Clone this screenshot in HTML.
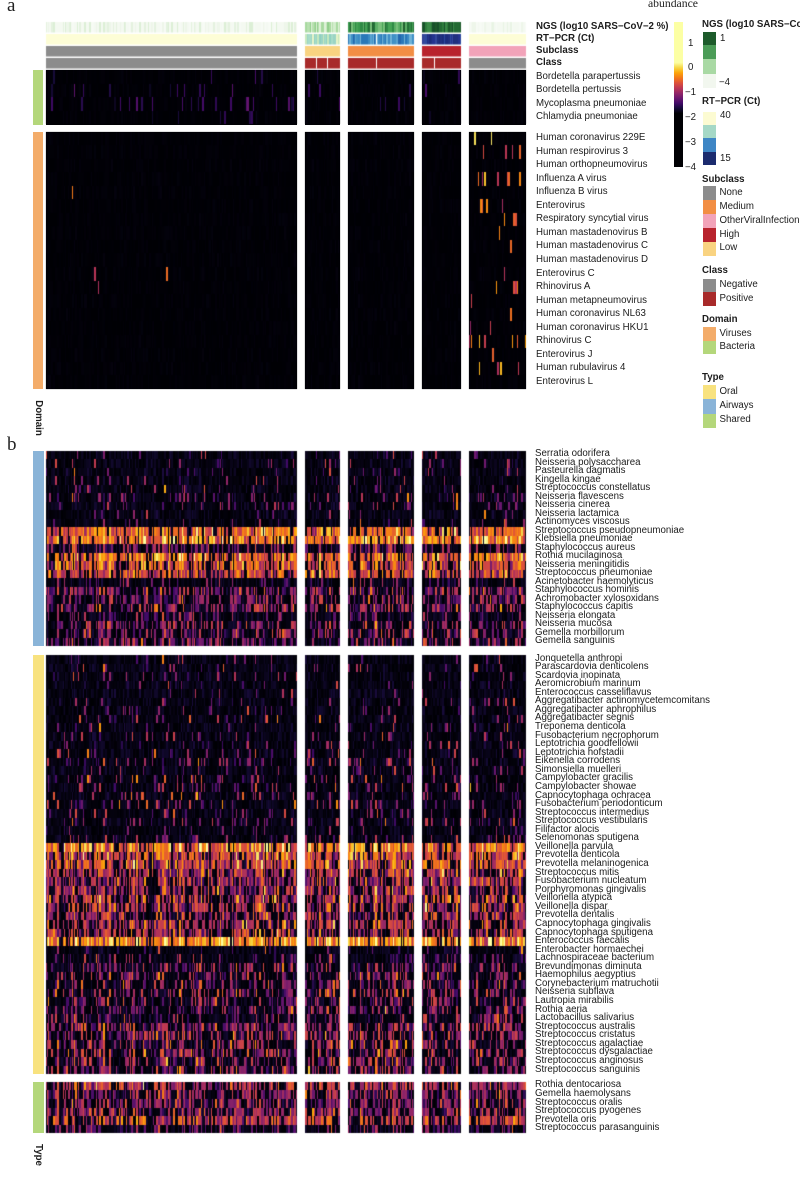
<!DOCTYPE html>
<html><head><meta charset="utf-8">
<style>
html,body{margin:0;padding:0;width:800px;height:1200px;overflow:hidden;background:#fff;}
#c{position:absolute;left:0;top:0;}
.t{position:absolute;font-family:"Liberation Sans",Arial,sans-serif;font-size:9.7px;line-height:12px;white-space:nowrap;color:#1c1c1c;}
.b{font-weight:bold;}
.blk{position:absolute;font-family:"Liberation Sans",Arial,sans-serif;font-size:9.7px;white-space:nowrap;color:#1c1c1c;}
.r{position:absolute;}
.serif{position:absolute;font-family:"Liberation Serif","Times New Roman",serif;white-space:nowrap;color:#222;}
</style></head><body>
<!-- fallback blocks -->
<div class="r" style="left:46px;top:70px;width:251px;height:55px;background:#000004"></div>
<div class="r" style="left:305px;top:70px;width:35px;height:55px;background:#000004"></div>
<div class="r" style="left:348px;top:70px;width:66px;height:55px;background:#000004"></div>
<div class="r" style="left:422px;top:70px;width:39px;height:55px;background:#000004"></div>
<div class="r" style="left:469px;top:70px;width:57px;height:55px;background:#000004"></div>
<div class="r" style="left:46px;top:132px;width:251px;height:257px;background:#000004"></div>
<div class="r" style="left:305px;top:132px;width:35px;height:257px;background:#000004"></div>
<div class="r" style="left:348px;top:132px;width:66px;height:257px;background:#000004"></div>
<div class="r" style="left:422px;top:132px;width:39px;height:257px;background:#000004"></div>
<div class="r" style="left:469px;top:132px;width:57px;height:257px;background:#000004"></div>

<canvas id="c" width="800" height="1200"></canvas>

<!-- left annotation bars -->
<div class="r" style="left:33px;top:70px;width:10px;height:55px;background:#b4d77b"></div>
<div class="r" style="left:33px;top:131.7px;width:10px;height:257.6px;background:#f3ac6a"></div>
<div class="r" style="left:33px;top:450.7px;width:11px;height:195.5px;background:#8ab4d8"></div>
<div class="r" style="left:33px;top:655px;width:11px;height:419.3px;background:#f8e27f"></div>
<div class="r" style="left:33px;top:1081.7px;width:11px;height:51.6px;background:#b4d77b"></div>

<!-- panel letters -->
<div class="serif" style="left:7px;top:-4px;font-size:19px;line-height:19px;">a</div>
<div class="serif" style="left:7px;top:435px;font-size:19px;line-height:19px;">b</div>
<div class="serif" style="left:648px;top:-2px;font-size:11.7px;line-height:12px;">abundance</div>

<!-- rotated labels -->
<div class="t b" style="left:37.5px;top:417.5px;transform:translate(-50%,-50%) rotate(90deg);">Domain</div>
<div class="t b" style="left:38px;top:1154.5px;transform:translate(-50%,-50%) rotate(90deg);">Type</div>

<!-- panel a annotation labels -->
<div class="t b" style="left:536px;top:20.9px;">NGS (log10 SARS−CoV−2 %)</div>
<div class="t b" style="left:536px;top:32.9px;">RT−PCR (Ct)</div>
<div class="t b" style="left:536px;top:45.2px;">Subclass</div>
<div class="t b" style="left:536px;top:56.9px;">Class</div>

<div class="blk" style="left:536px;top:69.6px;line-height:13.53px;">
<div>Bordetella parapertussis</div><div>Bordetella pertussis</div><div>Mycoplasma pneumoniae</div><div>Chlamydia pneumoniae</div>
</div>
<div class="blk" style="left:536px;top:131.2px;line-height:13.53px;">
<div>Human coronavirus 229E</div><div>Human respirovirus 3</div><div>Human orthopneumovirus</div><div>Influenza A virus</div><div>Influenza B virus</div><div>Enterovirus</div><div>Respiratory syncytial virus</div><div>Human mastadenovirus B</div><div>Human mastadenovirus C</div><div>Human mastadenovirus D</div><div>Enterovirus C</div><div>Rhinovirus A</div><div>Human metapneumovirus</div><div>Human coronavirus NL63</div><div>Human coronavirus HKU1</div><div>Rhinovirus C</div><div>Enterovirus J</div><div>Human rubulavirus 4</div><div>Enterovirus L</div>
</div>

<!-- panel b labels -->
<div class="blk" style="left:535px;top:450.3px;line-height:8.5px;">
<div>Serratia odorifera</div><div>Neisseria polysaccharea</div><div>Pasteurella dagmatis</div><div>Kingella kingae</div><div>Streptococcus constellatus</div><div>Neisseria flavescens</div><div>Neisseria cinerea</div><div>Neisseria lactamica</div><div>Actinomyces viscosus</div><div>Streptococcus pseudopneumoniae</div><div>Klebsiella pneumoniae</div><div>Staphylococcus aureus</div><div>Rothia mucilaginosa</div><div>Neisseria meningitidis</div><div>Streptococcus pneumoniae</div><div>Acinetobacter haemolyticus</div><div>Staphylococcus hominis</div><div>Achromobacter xylosoxidans</div><div>Staphylococcus capitis</div><div>Neisseria elongata</div><div>Neisseria mucosa</div><div>Gemella morbillorum</div><div>Gemella sanguinis</div>
</div>
<div class="blk" style="left:535px;top:654.5px;line-height:8.556px;">
<div>Jonquetella anthropi</div><div>Parascardovia denticolens</div><div>Scardovia inopinata</div><div>Aeromicrobium marinum</div><div>Enterococcus casseliflavus</div><div>Aggregatibacter actinomycetemcomitans</div><div>Aggregatibacter aphrophilus</div><div>Aggregatibacter segnis</div><div>Treponema denticola</div><div>Fusobacterium necrophorum</div><div>Leptotrichia goodfellowii</div><div>Leptotrichia hofstadii</div><div>Eikenella corrodens</div><div>Simonsiella muelleri</div><div>Campylobacter gracilis</div><div>Campylobacter showae</div><div>Capnocytophaga ochracea</div><div>Fusobacterium periodonticum</div><div>Streptococcus intermedius</div><div>Streptococcus vestibularis</div><div>Filifactor alocis</div><div>Selenomonas sputigena</div><div>Veillonella parvula</div><div>Prevotella denticola</div><div>Prevotella melaninogenica</div><div>Streptococcus mitis</div><div>Fusobacterium nucleatum</div><div>Porphyromonas gingivalis</div><div>Veillonella atypica</div><div>Veillonella dispar</div><div>Prevotella dentalis</div><div>Capnocytophaga gingivalis</div><div>Capnocytophaga sputigena</div><div>Enterococcus faecalis</div><div>Enterobacter hormaechei</div><div>Lachnospiraceae bacterium</div><div>Brevundimonas diminuta</div><div>Haemophilus aegyptius</div><div>Corynebacterium matruchotii</div><div>Neisseria subflava</div><div>Lautropia mirabilis</div><div>Rothia aeria</div><div>Lactobacillus salivarius</div><div>Streptococcus australis</div><div>Streptococcus cristatus</div><div>Streptococcus agalactiae</div><div>Streptococcus dysgalactiae</div><div>Streptococcus anginosus</div><div>Streptococcus sanguinis</div>
</div>
<div class="blk" style="left:535px;top:1081.2px;line-height:8.66px;">
<div>Rothia dentocariosa</div><div>Gemella haemolysans</div><div>Streptococcus oralis</div><div>Streptococcus pyogenes</div><div>Prevotella oris</div><div>Streptococcus parasanguinis</div>
</div>

<!-- colorbar -->
<div class="r" style="left:674px;top:21.7px;width:9px;height:145px;background:linear-gradient(to top,#000004 0%,#000004 37%,#160b39 40.5%,#420a68 44%,#6a176e 47.5%,#932667 51%,#bc3754 54.5%,#dd513a 58%,#f37819 61.5%,#fca50a 65%,#f6d746 68.5%,#fcffa4 72%,#fcffa4 100%);"></div>
<div class="t" style="left:688px;top:37.8px;">1</div>
<div class="t" style="left:688px;top:61.8px;">0</div>
<div class="t" style="left:685px;top:86.8px;">−1</div>
<div class="t" style="left:685px;top:111.8px;">−2</div>
<div class="t" style="left:685px;top:136.8px;">−3</div>
<div class="t" style="left:685px;top:161.8px;">−4</div>

<!-- legend column -->
<div class="t b" style="left:702px;top:18.5px;">NGS (log10 SARS−CoV−2 %)</div>
<div class="r" style="left:703px;top:31.7px;width:13px;height:13.3px;background:#1d5b2b"></div>
<div class="r" style="left:703px;top:45px;width:13px;height:14.3px;background:#4b9c57"></div>
<div class="r" style="left:703px;top:59.3px;width:13px;height:14.7px;background:#a9d9a4"></div>
<div class="r" style="left:703px;top:74px;width:13px;height:14.3px;background:#f2f7ef"></div>
<div class="t" style="left:720px;top:32.8px;">1</div>
<div class="t" style="left:719px;top:76.8px;">−4</div>

<div class="t b" style="left:702px;top:96.2px;">RT−PCR (Ct)</div>
<div class="r" style="left:703px;top:111.7px;width:13px;height:13.3px;background:#fcfbd2"></div>
<div class="r" style="left:703px;top:125px;width:13px;height:13px;background:#a5d8c6"></div>
<div class="r" style="left:703px;top:138px;width:13px;height:13.7px;background:#3e86c5"></div>
<div class="r" style="left:703px;top:151.7px;width:13px;height:13.3px;background:#1b2b6e"></div>
<div class="t" style="left:720px;top:110.2px;">40</div>
<div class="t" style="left:720px;top:152.8px;">15</div>

<div class="t b" style="left:702px;top:173.5px;">Subclass</div>
<div class="r" style="left:703px;top:186.4px;width:13px;height:13.9px;background:#8c8c8c"></div>
<div class="r" style="left:703px;top:200.3px;width:13px;height:13.9px;background:#f28e44"></div>
<div class="r" style="left:703px;top:214.2px;width:13px;height:13.9px;background:#f2a3b9"></div>
<div class="r" style="left:703px;top:228.1px;width:13px;height:13.9px;background:#b8232d"></div>
<div class="r" style="left:703px;top:242px;width:13px;height:13.9px;background:#f9d381"></div>
<div class="t" style="left:719.5px;top:186.8px;">None</div>
<div class="t" style="left:719.5px;top:200.7px;">Medium</div>
<div class="t" style="left:719.5px;top:214.6px;">OtherViralInfection</div>
<div class="t" style="left:719.5px;top:228.5px;">High</div>
<div class="t" style="left:719.5px;top:242.4px;">Low</div>

<div class="t b" style="left:702px;top:264.5px;">Class</div>
<div class="r" style="left:703px;top:278.5px;width:13px;height:13.5px;background:#8c8c8c"></div>
<div class="r" style="left:703px;top:292px;width:13px;height:13.5px;background:#a82a2a"></div>
<div class="t" style="left:719.5px;top:279.2px;">Negative</div>
<div class="t" style="left:719.5px;top:292.5px;">Positive</div>

<div class="t b" style="left:702px;top:313.5px;">Domain</div>
<div class="r" style="left:703px;top:327px;width:13px;height:13.5px;background:#f3ac6a"></div>
<div class="r" style="left:703px;top:340.5px;width:13px;height:13.5px;background:#b4d77b"></div>
<div class="t" style="left:719.5px;top:327.5px;">Viruses</div>
<div class="t" style="left:719.5px;top:341.2px;">Bacteria</div>

<div class="t b" style="left:702px;top:371.8px;">Type</div>
<div class="r" style="left:703px;top:385px;width:13px;height:14px;background:#f8e27f"></div>
<div class="r" style="left:703px;top:399px;width:13px;height:14.5px;background:#8ab4d8"></div>
<div class="r" style="left:703px;top:413.5px;width:13px;height:14px;background:#b4d77b"></div>
<div class="t" style="left:719.5px;top:385.5px;">Oral</div>
<div class="t" style="left:719.5px;top:400.2px;">Airways</div>
<div class="t" style="left:719.5px;top:414.2px;">Shared</div>

<script>
(function(){
var cv=document.getElementById('c'),ctx=cv.getContext('2d');
var s=2463534242;
function R(){s^=(s<<13);s>>>=0;s^=(s>>>17);s^=(s<<5);s>>>=0;return s/4294967296;}
function G(){var u=R()||1e-9,v=R();return Math.sqrt(-2*Math.log(u))*Math.cos(6.283185*v);}
var INF=[[0,0,4],[22,11,57],[66,10,104],[106,23,110],[147,38,103],[188,55,84],[221,81,58],[243,120,25],[252,165,10],[246,215,70],[252,255,164]];
function inf(t){if(t<0)t=0;if(t>1)t=1;var x=t*10,i=Math.min(9,Math.floor(x)),f=x-i,a=INF[i],b=INF[i+1];
return 'rgb('+Math.round(a[0]+(b[0]-a[0])*f)+','+Math.round(a[1]+(b[1]-a[1])*f)+','+Math.round(a[2]+(b[2]-a[2])*f)+')';}
function pick(a){return a[Math.floor(R()*a.length)];}
var groups=[[46,297],[305,340],[348,414],[422,461],[469,526]];
var cols=[];
groups.forEach(function(g,gi){var x=g[0];while(x<g[1]){var w=R()<0.55?1:2;if(x+w>g[1])w=g[1]-x;cols.push({x:x,w:w,g:gi,f:G()});x+=w;}});

/* annotations */
var ngsCol=[
 ['#f4f9f1','#f4f9f1','#eef6ea','#e4f2df','#f7fbf5','#dcefd6','#f4f9f1'],
 ['#c9e8c1','#a7d99f','#e0f2da','#b8e0b0','#d3edcd','#8fcd89'],
 ['#2f8a45','#45a355','#236f36','#5cb066','#1f5f2e','#79c07b','#3a9a4e'],
 ['#1d5a2b','#236a33','#2e7d3c','#17502a','#3a8a47'],
 ['#f4f9f1','#eef6ea','#f7fbf5','#e8f4e4','#f4f9f1']];
var rtCol=[
 ['#fdfdd6'],
 ['#a8dcc8','#c8e8bd','#8fd0c0','#e8f4c8','#9bd4c4'],
 ['#3b8bc4','#2a78b8','#5aa3cf','#4192c6','#2367ad','#6fb3d6'],
 ['#24338f','#1c2c7c','#2d4a9e','#20307f','#34489c'],
 ['#fdfdd6']];
var subC=['#8c8c8c','#f9d381','#f28e44','#b8232d','#f2a3b9'];
var clsC=['#8c8c8c','#a82a2a','#a82a2a','#a82a2a','#8c8c8c'];
cols.forEach(function(c){
 ctx.fillStyle=pick(ngsCol[c.g]);ctx.fillRect(c.x,22,c.w,10.5);
 ctx.fillStyle=pick(rtCol[c.g]);ctx.fillRect(c.x,34,c.w,10.5);
});
groups.forEach(function(g,gi){
 ctx.fillStyle=subC[gi];ctx.fillRect(g[0],46,g[1]-g[0],10.5);
 ctx.fillStyle=clsC[gi];ctx.fillRect(g[0],58,g[1]-g[0],10.5);
});
ctx.fillStyle='#ffffff';
[316,327,376,434].forEach(function(x){ctx.fillRect(x,58,1,10.5);});
ctx.fillRect(376,34,1,10.5);

function block(top,h,rows,floor,sig){
 for(var r=0;r<rows.length;r++){
  var y0=Math.round(top+r*h),y1=Math.round(top+(r+1)*h),L=rows[r][0],p=rows[r][1];
  for(var k=0;k<cols.length;k++){var c=cols[k];
   var pp=p*(1+0.3*c.f),v;
   if(R()<pp) v=L+G()*sig+c.f*0.04; else v=R()*R()*floor;
   ctx.fillStyle=inf(v);ctx.fillRect(c.x,y0,c.w,y1-y0);
  }
 }
}

/* panel a: bacteria */
block(70,13.53,[[0.12,0.02],[0.14,0.05],[0.16,0.08],[0.12,0.03]],0.02,0.06);
/* panel a: viruses */
var vrows=[];for(var i=0;i<19;i++)vrows.push([0.5,0.0008]);
block(131.7,13.53,vrows,0.02,0.15);
var vw=[3,2,2,3,1,4,2,1,1,1,2,3,2,2,2,3,1,1,1];var vs=0;vw.forEach(function(w){vs+=w;});
cols.forEach(function(c){
 if(c.g!==4)return;
 var n=R()<0.7?1:0; if(R()<0.35)n++;
 for(var j=0;j<n;j++){
  var q=R()*vs,r=0;while(q>vw[r]){q-=vw[r];r++;}
  var y0=Math.round(131.7+r*13.53),y1=Math.round(131.7+(r+1)*13.53);
  ctx.fillStyle=inf(0.4+R()*0.55);ctx.fillRect(c.x,y0,c.w,y1-y0);
 }
});

/* panel b */
var air=[[.32,.08],[.32,.1],[.3,.08],[.32,.1],[.32,.1],[.36,.16],[.32,.12],[.32,.1],[.3,.08],
[.64,.82],[.72,.93],[.33,.42],[.66,.82],[.58,.75],[.56,.75],[.28,.18],[.38,.5],[.36,.45],[.4,.5],[.28,.25],[.4,.45],[.36,.45],[.36,.45]];
block(450.75,8.5,air,0.12,0.14);
var oral=[[.32,.06],[.32,.07],[.32,.07],[.3,.05],[.3,.05],[.32,.08],[.33,.1],[.33,.1],[.33,.1],[.33,.12],[.33,.1],[.33,.12],
[.36,.18],[.33,.12],[.36,.2],[.36,.18],[.36,.18],[.36,.2],[.33,.15],[.36,.18],[.3,.1],[.36,.2],
[.68,.88],[.56,.78],[.54,.78],[.48,.72],[.45,.68],[.45,.62],[.48,.68],[.48,.68],[.42,.58],[.45,.62],[.45,.62],
[.76,.97],[.2,.12],[.28,.25],[.36,.4],[.36,.45],[.36,.4],[.4,.45],[.36,.4],[.36,.4],[.32,.3],[.4,.5],[.4,.5],[.4,.5],[.4,.5],[.4,.5],[.4,.45]];
block(655,8.556,oral,0.12,0.16);
var shared=[[.48,.65],[.42,.6],[.38,.55],[.42,.55],[.55,.65],[.28,.35]];
block(1081.7,8.6,shared,0.12,0.14);
})();
</script>
</body></html>
